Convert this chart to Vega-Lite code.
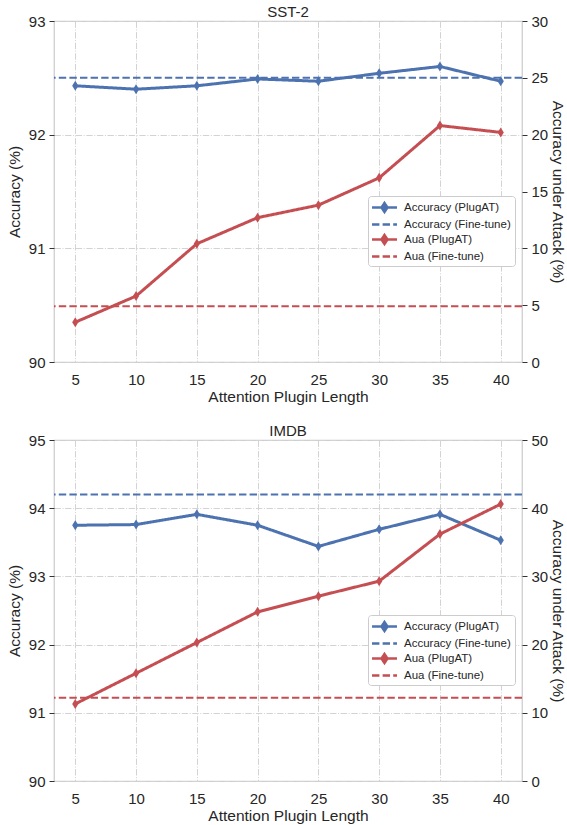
{
  "$schema": "https://vega.github.io/schema/vega-lite/v6.json",
  "background": "white",
  "padding": {"left": 6, "top": 4, "right": 0, "bottom": 5},
  "spacing": 17,
  "datasets": {
    "d": [
      {"panel": "SST-2", "series": "Accuracy (PlugAT)", "x": 5, "v": 92.43},
      {"panel": "SST-2", "series": "Accuracy (PlugAT)", "x": 10, "v": 92.40},
      {"panel": "SST-2", "series": "Accuracy (PlugAT)", "x": 15, "v": 92.43},
      {"panel": "SST-2", "series": "Accuracy (PlugAT)", "x": 20, "v": 92.49},
      {"panel": "SST-2", "series": "Accuracy (PlugAT)", "x": 25, "v": 92.47},
      {"panel": "SST-2", "series": "Accuracy (PlugAT)", "x": 30, "v": 92.54},
      {"panel": "SST-2", "series": "Accuracy (PlugAT)", "x": 35, "v": 92.60},
      {"panel": "SST-2", "series": "Accuracy (PlugAT)", "x": 40, "v": 92.47},
      {"panel": "SST-2", "series": "Accuracy (Fine-tune)", "v": 92.5},
      {"panel": "SST-2", "series": "Aua (PlugAT)", "x": 5, "v": 3.5},
      {"panel": "SST-2", "series": "Aua (PlugAT)", "x": 10, "v": 5.8},
      {"panel": "SST-2", "series": "Aua (PlugAT)", "x": 15, "v": 10.4},
      {"panel": "SST-2", "series": "Aua (PlugAT)", "x": 20, "v": 12.7},
      {"panel": "SST-2", "series": "Aua (PlugAT)", "x": 25, "v": 13.8},
      {"panel": "SST-2", "series": "Aua (PlugAT)", "x": 30, "v": 16.2},
      {"panel": "SST-2", "series": "Aua (PlugAT)", "x": 35, "v": 20.8},
      {"panel": "SST-2", "series": "Aua (PlugAT)", "x": 40, "v": 20.2},
      {"panel": "SST-2", "series": "Aua (Fine-tune)", "v": 4.9},
      {"panel": "IMDB", "series": "Accuracy (PlugAT)", "x": 5, "v": 93.75},
      {"panel": "IMDB", "series": "Accuracy (PlugAT)", "x": 10, "v": 93.76},
      {"panel": "IMDB", "series": "Accuracy (PlugAT)", "x": 15, "v": 93.91},
      {"panel": "IMDB", "series": "Accuracy (PlugAT)", "x": 20, "v": 93.75},
      {"panel": "IMDB", "series": "Accuracy (PlugAT)", "x": 25, "v": 93.44},
      {"panel": "IMDB", "series": "Accuracy (PlugAT)", "x": 30, "v": 93.69},
      {"panel": "IMDB", "series": "Accuracy (PlugAT)", "x": 35, "v": 93.91},
      {"panel": "IMDB", "series": "Accuracy (PlugAT)", "x": 40, "v": 93.53},
      {"panel": "IMDB", "series": "Accuracy (Fine-tune)", "v": 94.2},
      {"panel": "IMDB", "series": "Aua (PlugAT)", "x": 5, "v": 11.3},
      {"panel": "IMDB", "series": "Aua (PlugAT)", "x": 10, "v": 15.8},
      {"panel": "IMDB", "series": "Aua (PlugAT)", "x": 15, "v": 20.3},
      {"panel": "IMDB", "series": "Aua (PlugAT)", "x": 20, "v": 24.8},
      {"panel": "IMDB", "series": "Aua (PlugAT)", "x": 25, "v": 27.1},
      {"panel": "IMDB", "series": "Aua (PlugAT)", "x": 30, "v": 29.3},
      {"panel": "IMDB", "series": "Aua (PlugAT)", "x": 35, "v": 36.2},
      {"panel": "IMDB", "series": "Aua (PlugAT)", "x": 40, "v": 40.6},
      {"panel": "IMDB", "series": "Aua (Fine-tune)", "v": 12.2}
    ]
  },
  "vconcat": [
    {
      "title": "SST-2",
      "width": 468,
      "height": 341,
      "data": {"name": "d"},
      "transform": [{"filter": "datum.panel === 'SST-2'"}],
      "layer": [
        {
          "encoding": {
            "y": {"field": "v", "type": "quantitative", "scale": {"domain": [90, 93], "nice": false, "zero": false},
                  "axis": {"title": "Accuracy (%)", "orient": "left", "values": [90, 91, 92, 93], "titlePadding": 6}}
          },
          "layer": [
            {
              "transform": [{"filter": "datum.series === 'Accuracy (PlugAT)'"}],
              "mark": {"type": "line", "strokeWidth": 3},
              "encoding": {
                "x": {"field": "x", "type": "quantitative", "scale": {"domain": [3.25, 41.75], "nice": false, "zero": false}, "axis": {"title": "Attention Plugin Length", "values": [5, 10, 15, 20, 25, 30, 35, 40]}},
                "color": {"field": "series", "type": "nominal", "scale": {"domain": ["Accuracy (PlugAT)", "Accuracy (Fine-tune)", "Aua (PlugAT)", "Aua (Fine-tune)"], "range": ["#4c72b0", "#4c72b0", "#c44e52", "#c44e52"]},
                  "legend": {"title": null, "encode": {"symbols": {"update": {"shape": {"signal": "indexof(datum.value,'PlugAT')>=0 ? 'M-2.08,0H2.08M0,-0.75L0.5,0L0,0.75L-0.5,0Z' : 'M-2.08,0H2.08'"}, "fill": {"signal": "indexof(datum.value,'PlugAT')<0 ? 'transparent' : (indexof(datum.value,'Accuracy')>=0 ? '#4c72b0' : '#c44e52')"}}}}}},
                "strokeDash": {"field": "series", "type": "nominal", "scale": {"domain": ["Accuracy (PlugAT)", "Accuracy (Fine-tune)", "Aua (PlugAT)", "Aua (Fine-tune)"], "range": [[1, 0], [7.4, 3.2], [1, 0], [7.4, 3.2]]}, "legend": {"title": null}}
              }
            },
            {
              "transform": [{"filter": "datum.series === 'Accuracy (PlugAT)'"}],
              "mark": {"type": "point", "shape": "M0,-1L0.62,0L0,1L-0.62,0Z", "filled": true, "size": 100, "opacity": 1, "color": "#4c72b0"},
              "encoding": {
                "x": {"field": "x", "type": "quantitative", "scale": {"domain": [3.25, 41.75], "nice": false, "zero": false}, "axis": {"title": "Attention Plugin Length", "values": [5, 10, 15, 20, 25, 30, 35, 40]}}
              }
            },
            {
              "transform": [{"filter": "datum.series === 'Accuracy (Fine-tune)'"}],
              "mark": {"type": "rule", "strokeWidth": 2},
              "encoding": {
                "color": {"field": "series", "type": "nominal", "scale": {"domain": ["Accuracy (PlugAT)", "Accuracy (Fine-tune)", "Aua (PlugAT)", "Aua (Fine-tune)"], "range": ["#4c72b0", "#4c72b0", "#c44e52", "#c44e52"]}, "legend": {"title": null}},
                "strokeDash": {"field": "series", "type": "nominal", "scale": {"domain": ["Accuracy (PlugAT)", "Accuracy (Fine-tune)", "Aua (PlugAT)", "Aua (Fine-tune)"], "range": [[1, 0], [7.4, 3.2], [1, 0], [7.4, 3.2]]}, "legend": {"title": null}}
              }
            }
          ]
        },
        {
          "encoding": {
            "y": {"field": "v", "type": "quantitative", "scale": {"domain": [0, 30], "nice": false},
                  "axis": {"title": "Accuracy under Attack (%)", "orient": "right", "values": [0, 5, 10, 15, 20, 25, 30], "titlePadding": 2}}
          },
          "layer": [
            {
              "transform": [{"filter": "datum.series === 'Aua (PlugAT)'"}],
              "mark": {"type": "line", "strokeWidth": 3},
              "encoding": {
                "x": {"field": "x", "type": "quantitative", "scale": {"domain": [3.25, 41.75], "nice": false, "zero": false}, "axis": {"title": "Attention Plugin Length", "values": [5, 10, 15, 20, 25, 30, 35, 40]}},
                "color": {"field": "series", "type": "nominal", "scale": {"domain": ["Accuracy (PlugAT)", "Accuracy (Fine-tune)", "Aua (PlugAT)", "Aua (Fine-tune)"], "range": ["#4c72b0", "#4c72b0", "#c44e52", "#c44e52"]}, "legend": {"title": null}},
                "strokeDash": {"field": "series", "type": "nominal", "scale": {"domain": ["Accuracy (PlugAT)", "Accuracy (Fine-tune)", "Aua (PlugAT)", "Aua (Fine-tune)"], "range": [[1, 0], [7.4, 3.2], [1, 0], [7.4, 3.2]]}, "legend": {"title": null}}
              }
            },
            {
              "transform": [{"filter": "datum.series === 'Aua (PlugAT)'"}],
              "mark": {"type": "point", "shape": "M0,-1L0.62,0L0,1L-0.62,0Z", "filled": true, "size": 100, "opacity": 1, "color": "#c44e52"},
              "encoding": {
                "x": {"field": "x", "type": "quantitative", "scale": {"domain": [3.25, 41.75], "nice": false, "zero": false}, "axis": {"title": "Attention Plugin Length", "values": [5, 10, 15, 20, 25, 30, 35, 40]}}
              }
            },
            {
              "transform": [{"filter": "datum.series === 'Aua (Fine-tune)'"}],
              "mark": {"type": "rule", "strokeWidth": 2},
              "encoding": {
                "color": {"field": "series", "type": "nominal", "scale": {"domain": ["Accuracy (PlugAT)", "Accuracy (Fine-tune)", "Aua (PlugAT)", "Aua (Fine-tune)"], "range": ["#4c72b0", "#4c72b0", "#c44e52", "#c44e52"]}, "legend": {"title": null}},
                "strokeDash": {"field": "series", "type": "nominal", "scale": {"domain": ["Accuracy (PlugAT)", "Accuracy (Fine-tune)", "Aua (PlugAT)", "Aua (Fine-tune)"], "range": [[1, 0], [7.4, 3.2], [1, 0], [7.4, 3.2]]}, "legend": {"title": null}}
              }
            }
          ]
        }
      ],
      "resolve": {"scale": {"y": "independent"}}
    },
    {
      "title": "IMDB",
      "width": 468,
      "height": 341,
      "data": {"name": "d"},
      "transform": [{"filter": "datum.panel === 'IMDB'"}],
      "layer": [
        {
          "encoding": {
            "y": {"field": "v", "type": "quantitative", "scale": {"domain": [90, 95], "nice": false, "zero": false},
                  "axis": {"title": "Accuracy (%)", "orient": "left", "values": [90, 91, 92, 93, 94, 95], "titlePadding": 6}}
          },
          "layer": [
            {
              "transform": [{"filter": "datum.series === 'Accuracy (PlugAT)'"}],
              "mark": {"type": "line", "strokeWidth": 3},
              "encoding": {
                "x": {"field": "x", "type": "quantitative", "scale": {"domain": [3.25, 41.75], "nice": false, "zero": false}, "axis": {"title": "Attention Plugin Length", "values": [5, 10, 15, 20, 25, 30, 35, 40]}},
                "color": {"field": "series", "type": "nominal", "scale": {"domain": ["Accuracy (PlugAT)", "Accuracy (Fine-tune)", "Aua (PlugAT)", "Aua (Fine-tune)"], "range": ["#4c72b0", "#4c72b0", "#c44e52", "#c44e52"]},
                  "legend": {"title": null, "encode": {"symbols": {"update": {"shape": {"signal": "indexof(datum.value,'PlugAT')>=0 ? 'M-2.08,0H2.08M0,-0.75L0.5,0L0,0.75L-0.5,0Z' : 'M-2.08,0H2.08'"}, "fill": {"signal": "indexof(datum.value,'PlugAT')<0 ? 'transparent' : (indexof(datum.value,'Accuracy')>=0 ? '#4c72b0' : '#c44e52')"}}}}}},
                "strokeDash": {"field": "series", "type": "nominal", "scale": {"domain": ["Accuracy (PlugAT)", "Accuracy (Fine-tune)", "Aua (PlugAT)", "Aua (Fine-tune)"], "range": [[1, 0], [7.4, 3.2], [1, 0], [7.4, 3.2]]}, "legend": {"title": null}}
              }
            },
            {
              "transform": [{"filter": "datum.series === 'Accuracy (PlugAT)'"}],
              "mark": {"type": "point", "shape": "M0,-1L0.62,0L0,1L-0.62,0Z", "filled": true, "size": 100, "opacity": 1, "color": "#4c72b0"},
              "encoding": {
                "x": {"field": "x", "type": "quantitative", "scale": {"domain": [3.25, 41.75], "nice": false, "zero": false}, "axis": {"title": "Attention Plugin Length", "values": [5, 10, 15, 20, 25, 30, 35, 40]}}
              }
            },
            {
              "transform": [{"filter": "datum.series === 'Accuracy (Fine-tune)'"}],
              "mark": {"type": "rule", "strokeWidth": 2},
              "encoding": {
                "color": {"field": "series", "type": "nominal", "scale": {"domain": ["Accuracy (PlugAT)", "Accuracy (Fine-tune)", "Aua (PlugAT)", "Aua (Fine-tune)"], "range": ["#4c72b0", "#4c72b0", "#c44e52", "#c44e52"]}, "legend": {"title": null}},
                "strokeDash": {"field": "series", "type": "nominal", "scale": {"domain": ["Accuracy (PlugAT)", "Accuracy (Fine-tune)", "Aua (PlugAT)", "Aua (Fine-tune)"], "range": [[1, 0], [7.4, 3.2], [1, 0], [7.4, 3.2]]}, "legend": {"title": null}}
              }
            }
          ]
        },
        {
          "encoding": {
            "y": {"field": "v", "type": "quantitative", "scale": {"domain": [0, 50], "nice": false},
                  "axis": {"title": "Accuracy under Attack (%)", "orient": "right", "values": [0, 10, 20, 30, 40, 50], "titlePadding": 2}}
          },
          "layer": [
            {
              "transform": [{"filter": "datum.series === 'Aua (PlugAT)'"}],
              "mark": {"type": "line", "strokeWidth": 3},
              "encoding": {
                "x": {"field": "x", "type": "quantitative", "scale": {"domain": [3.25, 41.75], "nice": false, "zero": false}, "axis": {"title": "Attention Plugin Length", "values": [5, 10, 15, 20, 25, 30, 35, 40]}},
                "color": {"field": "series", "type": "nominal", "scale": {"domain": ["Accuracy (PlugAT)", "Accuracy (Fine-tune)", "Aua (PlugAT)", "Aua (Fine-tune)"], "range": ["#4c72b0", "#4c72b0", "#c44e52", "#c44e52"]}, "legend": {"title": null}},
                "strokeDash": {"field": "series", "type": "nominal", "scale": {"domain": ["Accuracy (PlugAT)", "Accuracy (Fine-tune)", "Aua (PlugAT)", "Aua (Fine-tune)"], "range": [[1, 0], [7.4, 3.2], [1, 0], [7.4, 3.2]]}, "legend": {"title": null}}
              }
            },
            {
              "transform": [{"filter": "datum.series === 'Aua (PlugAT)'"}],
              "mark": {"type": "point", "shape": "M0,-1L0.62,0L0,1L-0.62,0Z", "filled": true, "size": 100, "opacity": 1, "color": "#c44e52"},
              "encoding": {
                "x": {"field": "x", "type": "quantitative", "scale": {"domain": [3.25, 41.75], "nice": false, "zero": false}, "axis": {"title": "Attention Plugin Length", "values": [5, 10, 15, 20, 25, 30, 35, 40]}}
              }
            },
            {
              "transform": [{"filter": "datum.series === 'Aua (Fine-tune)'"}],
              "mark": {"type": "rule", "strokeWidth": 2},
              "encoding": {
                "color": {"field": "series", "type": "nominal", "scale": {"domain": ["Accuracy (PlugAT)", "Accuracy (Fine-tune)", "Aua (PlugAT)", "Aua (Fine-tune)"], "range": ["#4c72b0", "#4c72b0", "#c44e52", "#c44e52"]}, "legend": {"title": null}},
                "strokeDash": {"field": "series", "type": "nominal", "scale": {"domain": ["Accuracy (PlugAT)", "Accuracy (Fine-tune)", "Aua (PlugAT)", "Aua (Fine-tune)"], "range": [[1, 0], [7.4, 3.2], [1, 0], [7.4, 3.2]]}, "legend": {"title": null}}
              }
            }
          ]
        }
      ],
      "resolve": {"scale": {"y": "independent"}}
    }
  ],
  "resolve": {"scale": {"color": "independent", "strokeDash": "independent", "x": "independent", "y": "independent"}},
  "config": {
    "font": "Liberation Sans",
    "view": {"stroke": "#cccccc", "strokeWidth": 1.25},
    "title": {"fontSize": 15, "fontWeight": "normal", "color": "#262626", "offset": -6},
    "axis": {
      "domain": false,
      "labelFontSize": 15,
      "titleFontSize": 15.5,
      "titleFontWeight": "normal",
      "labelColor": "#262626",
      "titleColor": "#262626",
      "grid": true,
      "gridColor": "#d3d3d3",
      "gridDash": [6.4, 1.6, 1, 1.6],
      "gridWidth": 1,
      "tickColor": "#333333",
      "tickSize": 5,
      "tickWidth": 1,
      "labelPadding": 4,
      "titlePadding": 3
    },
    "axisX": {"ticks": false, "tickSize": 0, "labelPadding": 10, "titlePadding": 2},
    "legend": {
      "orient": "none",
      "legendX": 314,
      "legendY": 175,
      "fillColor": "white",
      "strokeColor": "#cccccc",
      "cornerRadius": 3,
      "padding": 4,
      "labelFontSize": 11.5,
      "labelColor": "#262626",
      "symbolSize": 144,
      "symbolStrokeWidth": 2.5,
      "symbolOffset": 5,
      "labelOffset": 12,
      "rowPadding": 0
    }
  }
}
